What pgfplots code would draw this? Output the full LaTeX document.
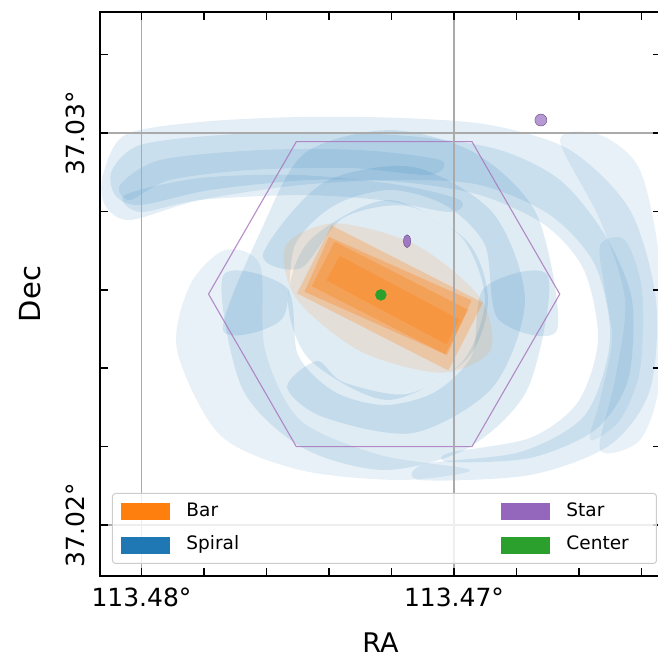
\documentclass[border=0pt]{standalone}
\usepackage{fontspec}
\setmainfont{DejaVu Sans}
\usepackage{pgfplots}
\pgfplotsset{compat=1.18}
\definecolor{tabblue}{RGB}{31,119,180}
\definecolor{taborange}{RGB}{255,127,14}
\definecolor{tabgreen}{RGB}{44,160,44}
\definecolor{tabpurple}{RGB}{148,103,189}
\definecolor{hexpurple}{RGB}{170,120,190}
\definecolor{gridgray}{RGB}{170,170,170}
\definecolor{legedge}{RGB}{204,204,204}
\begin{document}
\begin{tikzpicture}
\begin{axis}[
  at={(0pt,0pt)}, anchor=south west,
  scale only axis, width=561pt, height=564pt,
  x dir=reverse,
  xmin=-6.624, xmax=11.328, ymin=-1.301, ymax=13.087,
  xtick={0,10}, xticklabels={113.47°,113.48°},
  ytick={0,10}, yticklabels={37.02°,37.03°},
  minor xtick={-6,-4,-2,2,4,6,8}, minor ytick={2,4,6,8,12},
  tick align=inside, major tick length=8pt, minor tick length=8pt,
  every tick/.style={black, line width=1.5pt},
  axis line style={line width=1.6pt},
  grid=major, major grid style={gridgray, line width=1.2pt},
  axis on top,
  xticklabel style={font=\fontsize{25}{30}\selectfont, inner sep=0pt, anchor=north},
  xticklabel shift=12pt,
  yticklabel style={font=\fontsize{25}{30}\selectfont, inner sep=0pt, rotate=90, anchor=south},
  yticklabel shift=15pt,
  xlabel={RA}, ylabel={Dec},
  xlabel style={font=\fontsize{27}{32}\selectfont, at={(axis description cs:0.5,-0.100)}, anchor=north, inner sep=0pt},
  ylabel style={font=\fontsize{29}{34}\selectfont, at={(axis description cs:-0.1248,0.5)}, anchor=center, inner sep=0pt},
  legend columns=2,
  legend cell align=left,
  legend style={at={(axis description cs:0.0214,0.0213)}, anchor=south west,
    draw=legedge, line width=1pt, fill=white, fill opacity=0.8, text opacity=1,
    rounded corners=3pt, inner xsep=9pt, inner ysep=9pt,
    column sep=16pt, row sep=15pt,
    nodes={inner sep=0pt, text height=14pt, text depth=4.5pt},
    font=\fontsize{18.5}{22}\selectfont},
]
% ---- Spiral annotations (blue) ----
\addplot[forget plot, draw=none, fill=tabblue, fill opacity=0.12, smooth cycle] coordinates {
(11.232,8.929) (10.528,9.949) (8.128,10.281) (4.928,10.408) (1.728,10.383) (-1.152,10.204)
(-3.712,9.566) (-5.632,8.036) (-6.464,5.740) (-6.272,3.444) (-4.992,2.041) (-2.432,1.276)
(1.088,1.148) (0.928,1.560) (-2.112,1.862) (-4.192,2.806) (-4.992,4.719) (-4.512,6.633)
(-3.072,7.908) (-0.832,8.673) (1.728,8.801) (4.928,8.673) (8.128,8.291) (10.368,7.781) (11.168,8.163)};
\addplot[forget plot, draw=none, fill=tabblue, fill opacity=0.13, smooth cycle] coordinates {
(10.944,9.056) (10.048,9.694) (7.488,9.949) (4.288,10.025) (1.088,9.898) (-1.472,9.566)
(-3.392,8.801) (-4.832,7.398) (-5.696,5.740) (-5.568,3.699) (-4.512,2.423) (-2.432,1.709)
(0.128,1.607) (0.160,1.840) (-2.432,2.219) (-3.968,3.138) (-4.608,4.719) (-4.160,6.505)
(-2.912,7.653) (-0.832,8.418) (1.728,8.750) (4.608,8.801) (7.808,8.546) (10.048,8.163) (10.848,8.418)};
\addplot[forget plot, draw=none, fill=tabblue, fill opacity=0.12, smooth cycle] coordinates {
(10.688,8.673) (9.408,9.311) (6.208,9.566) (3.008,9.566) (0.448,9.311)
(0.768,8.929) (3.328,9.107) (6.528,9.056) (9.088,8.801) (10.368,8.291)};
\addplot[forget plot, draw=none, fill=tabblue, fill opacity=0.12, smooth cycle] coordinates {
(10.528,8.418) (8.128,8.852) (4.928,8.929) (1.728,8.673) (-0.192,8.291)
(0.128,7.985) (2.368,8.291) (4.928,8.418) (8.128,8.291) (10.048,7.985)};
\addplot[forget plot, draw=none, fill=tabblue, fill opacity=0.10, smooth cycle] coordinates {
(-3.392,9.821) (-4.672,9.949) (-5.952,9.056) (-6.592,6.633) (-6.592,3.699)
(-5.952,2.168) (-4.672,1.913) (-5.152,3.699) (-5.472,5.740) (-4.672,7.781)};
\addplot[forget plot, draw=none, fill=tabblue, fill opacity=0.09, smooth cycle] coordinates {
(-4.672,7.143) (-5.472,7.270) (-6.016,5.995) (-5.952,3.954) (-5.312,2.679)
(-4.352,2.168) (-4.672,3.189) (-5.056,4.719) (-4.832,5.995)};
\addplot[forget plot, draw=none, fill=tabblue, fill opacity=0.10, smooth cycle] coordinates {
(8.864,4.464) (8.448,6.122) (7.328,7.015) (6.208,6.633) (6.048,4.464) (4.928,2.679)
(2.368,1.786) (-0.512,1.403) (1.728,1.148) (4.928,1.403) (7.488,2.296)};
\addplot[forget plot, draw=none, fill=tabblue, fill opacity=0.14, smooth cycle] coordinates {
(-3.296,4.974) (-2.656,7.908) (-0.672,9.490) (2.048,10.076) (4.768,9.490) (6.144,7.567) (7.392,4.974)
(5.504,5.255) (5.088,7.143) (3.808,8.163) (2.048,8.546) (0.288,8.163) (-0.992,7.143) (-1.408,5.255)};
\addplot[forget plot, draw=none, fill=tabblue, fill opacity=0.14, smooth cycle] coordinates {
(7.392,6.352) (6.784,3.495) (4.832,1.964) (2.208,1.403) (-0.448,1.964) (-2.368,3.495) (-3.008,6.352)
(-0.960,6.046) (-0.576,4.337) (0.608,3.393) (2.208,3.061) (3.808,3.393) (4.992,4.337) (5.344,6.046)};
\addplot[forget plot, draw=none, fill=tabblue, fill opacity=0.14, smooth cycle] coordinates {
(6.112,6.913) (4.192,8.724) (1.312,9.133) (-1.248,7.959) (-2.272,5.740) (-1.248,3.520)
(1.312,2.347) (4.192,2.755) (5.344,3.520) (4.384,4.184) (3.552,3.648) (1.504,3.342)
(-0.288,4.184) (-0.992,5.740) (-0.288,7.296) (1.504,8.138) (3.552,7.832) (4.896,6.556)};
\addplot[forget plot, draw=none, fill=tabblue, fill opacity=0.14, smooth cycle] coordinates {
(5.312,5.740) (4.608,7.270) (2.112,8.291) (-0.384,7.270) (-1.088,5.740) (-0.384,4.209) (2.112,3.189) (4.608,4.209)};
% ---- Bar annotations (orange) ----
\addplot[forget plot, draw=none, fill=taborange, fill opacity=0.12, smooth cycle] coordinates {
(-1.168,4.459) (0.410,3.885) (2.982,4.426) (5.043,5.768) (5.392,7.122) (3.814,7.696) (1.242,7.156) (-0.819,5.814)};
\addplot[forget plot, draw=none, fill=taborange, fill opacity=0.25] coordinates {
(0.179,3.941) (-0.928,5.671) (3.917,7.640) (5.024,5.911)} -- cycle;
\addplot[forget plot, draw=none, fill=taborange, fill opacity=0.3] coordinates {
(0.221,4.334) (-0.560,5.732) (4.003,7.349) (4.784,5.951)} -- cycle;
\addplot[forget plot, draw=none, fill=taborange, fill opacity=0.3] coordinates {
(0.275,4.352) (-0.454,5.490) (3.821,7.230) (4.550,6.092)} -- cycle;
\addplot[forget plot, draw=none, fill=taborange, fill opacity=0.3] coordinates {
(0.243,4.610) (-0.179,5.242) (3.661,6.870) (4.083,6.237)} -- cycle;
% ---- image footprint (hexagon) ----
\addplot[forget plot, hexpurple, draw opacity=0.85, line width=1.1pt] coordinates {
(7.855,5.89) (5.045,9.78) (-0.575,9.78) (-3.385,5.89) (-0.575,2.00) (5.045,2.00)} -- cycle;
% ---- Stars ----
\addplot[forget plot, only marks, mark=*, mark size=3.6pt,
  mark options={yscale=1.8, fill=tabpurple, draw=tabpurple!70!black, fill opacity=0.85}] coordinates {(1.50,7.24)};
\addplot[forget plot, only marks, mark=*, mark size=6pt,
  mark options={fill=tabpurple!85, draw=tabpurple!70!black, fill opacity=0.8}] coordinates {(-2.78,10.33)};
% ---- Center ----
\addplot[forget plot, only marks, mark=*, mark size=5.5pt,
  mark options={fill=tabgreen, draw=tabgreen}] coordinates {(2.34,5.87)};
% ---- legend ----
\addlegendimage{legend image code/.code={\fill[taborange, fill opacity=1, sharp corners] (0pt,-8pt) rectangle (48pt,8pt);}}
\addlegendentry{\makebox[299pt][l]{Bar}}
\addlegendimage{legend image code/.code={\fill[tabpurple, fill opacity=1, sharp corners] (0pt,-8pt) rectangle (48pt,8pt);}}
\addlegendentry{\makebox[81pt][l]{Star}}
\addlegendimage{legend image code/.code={\fill[tabblue, fill opacity=1, sharp corners] (0pt,-8pt) rectangle (48pt,8pt);}}
\addlegendentry{\makebox[299pt][l]{Spiral}}
\addlegendimage{legend image code/.code={\fill[tabgreen, fill opacity=1, sharp corners] (0pt,-8pt) rectangle (48pt,8pt);}}
\addlegendentry{\makebox[81pt][l]{Center}}
\end{axis}
\pgfresetboundingbox
\path[use as bounding box] (-100pt,-83pt) rectangle (558pt,576pt);
\end{tikzpicture}
\end{document}
